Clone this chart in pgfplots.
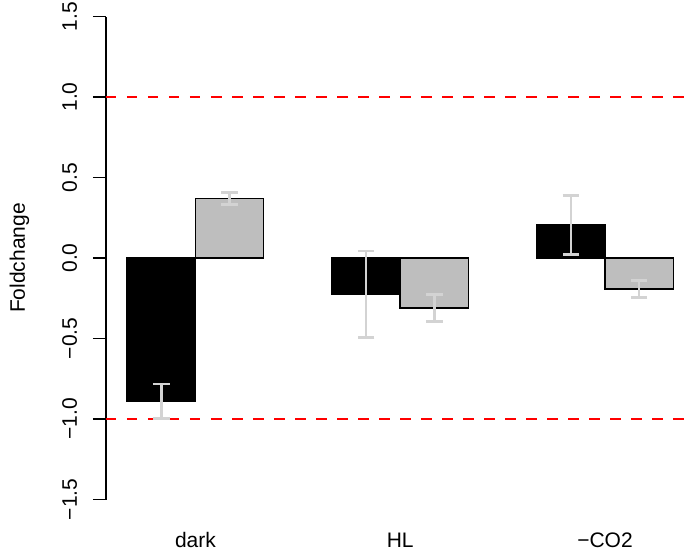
\documentclass[border=0pt]{standalone}
\usepackage{fontspec}
\setmainfont{Liberation Sans}
\usepackage{pgfplots}
\pgfplotsset{compat=1.18}
\definecolor{bargrey}{HTML}{BEBEBE}
\definecolor{errgrey}{HTML}{D3D3D3}
\begin{document}
\fontsize{21}{25}\selectfont
\begin{tikzpicture}
\begin{axis}[
  scale only axis, width=584pt, height=483pt,
  xmin=0.69, xmax=9.245, ymin=-1.5, ymax=1.5,
  axis lines*=left,
  x axis line style={draw=none},
  y axis line style={-, line width=1.3pt},
  ytick={-1.5,-1,-0.5,0,0.5,1,1.5},
  yticklabels={−1.5,−1.0,−0.5,0.0,0.5,1.0,1.5},
  xtick={2,5,8}, xticklabels={dark,HL,−CO2},
  tick align=outside, major tick length=13pt,
  xtick style={draw=none},
  ytick style={line width=1.3pt, black},
  yticklabel style={xshift=-16pt, rotate=90, anchor=base},
  xticklabel style={anchor=base, yshift=-34.5pt},
  ylabel={Foldchange},
  every axis y label/.style={at={(rel axis cs:0,0.5)}, xshift=-81pt, rotate=90, anchor=base},
  clip=true,
]
\addplot[red, line width=2pt, dash pattern=on 10.5pt off 10.5pt] coordinates {(0.69,1) (9.245,1)};
\addplot[red, line width=2pt, dash pattern=on 10.5pt off 10.5pt] coordinates {(0.69,-1) (9.245,-1)};
\addplot[ybar, bar width=1, bar shift=0pt, fill=black, draw=black, line width=1.5pt,
  error bars/.cd, y dir=both, y explicit,
  error bar style={errgrey, line width=2.6pt},
  error mark options={rotate=90, errgrey, mark size=8.3pt, line width=2.6pt}]
  coordinates {(1.5,-0.89) +- (0,0.108) (4.5,-0.225) +- (0,0.268) (7.5,0.205) +- (0,0.184)};
\addplot[ybar, bar width=1, bar shift=0pt, fill=bargrey, draw=black, line width=1.5pt,
  error bars/.cd, y dir=both, y explicit,
  error bar style={errgrey, line width=2.6pt},
  error mark options={rotate=90, errgrey, mark size=8.3pt, line width=2.6pt}]
  coordinates {(2.5,0.37) +- (0,0.036) (5.5,-0.31) +- (0,0.083) (8.5,-0.193) +- (0,0.052)};
\end{axis}
\pgfresetboundingbox
\path ([shift={(-106pt,-55.5pt)}]current axis.south west) rectangle ([shift={(584pt,499.5pt)}]current axis.south west);
\end{tikzpicture}
\end{document}
